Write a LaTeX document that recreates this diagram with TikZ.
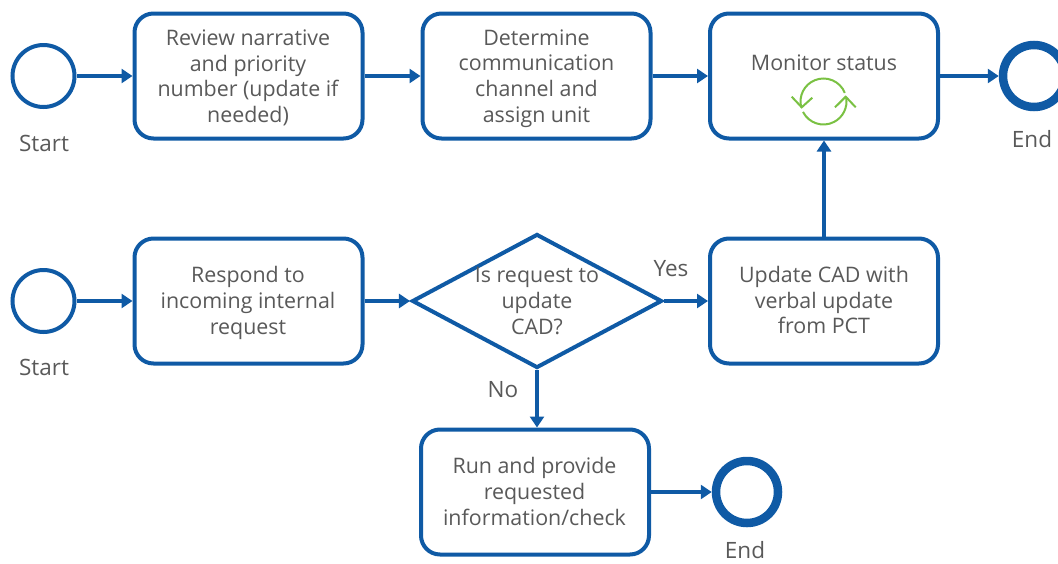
\documentclass[tikz,border=0pt]{standalone}
\usepackage{fontspec}
\setmainfont{Open Sans}
\usetikzlibrary{arrows.meta,shapes.geometric}
\definecolor{bpblue}{HTML}{0F5AA5}
\definecolor{bpgreen}{HTML}{7AC143}
\definecolor{bptext}{HTML}{595959}
\tikzset{
 x=1pt,y=-1pt,
 task/.style={draw=bpblue,line width=4pt,rounded corners=19pt,minimum width=228pt,minimum height=125pt,inner sep=0pt,fill=white},
 tasktext/.style={align=center,text=bptext,font=\fontsize{21.4}{25.6}\selectfont,inner sep=0pt},
 startev/.style={circle,draw=bpblue,line width=4pt,minimum size=62pt,inner sep=0pt},
 endev/.style={circle,draw=bpblue,line width=8.5pt,minimum size=62pt,inner sep=0pt},
 lab/.style={text=bptext,font=\fontsize{22.5}{26}\selectfont,inner sep=0pt},
 flow/.style={draw=bpblue,line width=4.4pt,-{Triangle[length=11pt,width=14pt]}},
 icon/.style={bpgreen,line width=2pt}
}
\begin{document}
\begin{tikzpicture}
\useasboundingbox (0,0) rectangle (1058,563);
\node[startev] (s1) at (43.5,76) {};
\node[task] (t1) at (248.5,76) {};
\node[tasktext] (t1l) at (248,78) {Review narrative\\and priority\\number (update if\\needed)};
\node[task] (t2) at (536.5,76) {};
\node[tasktext] (t2l) at (536.5,78.5) {Determine\\communication\\channel and\\assign unit};
\node[task] (t3) at (824,76) {};
\node[tasktext] (t3l) at (824,63) {Monitor status};
\node[endev] (e1) at (1034,76) {};
\node[lab] (ls1) at (44,143) {Start};
\node[lab] (le1) at (1032,139) {End};
\node[startev] (s2) at (43.5,301) {};
\node[task] (t4) at (248.5,301) {};
\node[tasktext] (t4l) at (248,303) {Respond to\\incoming internal\\request};
\node[diamond,draw=bpblue,line width=4pt,minimum width=250pt,minimum height=134pt,inner sep=0pt,aspect=1.87] (g) at (537,301) {};
\node[tasktext] (gl) at (537,301) {Is request to\\update\\CAD?};
\node[task] (t5) at (824,301) {};
\node[tasktext] (t5l) at (824,300) {Update CAD with\\verbal update\\from PCT};
\node[lab] (ls2) at (44,367) {Start};
\node[lab] (ly) at (671,269) {Yes};
\node[lab] (ln) at (503,390) {No};
\node[task] (t6) at (535,492) {};
\node[tasktext] (t6l) at (534.5,491.5) {Run and provide\\requested\\information/check};
\node[endev] (e2) at (747,492) {};
\node[lab] (le2) at (745,550.5) {End};
\draw[flow] (s1) -- (t1);
\draw[flow] (t1) -- (t2);
\draw[flow] (t2) -- (t3);
\draw[flow] (t3) -- (e1);
\draw[flow] (s2) -- (t4);
\draw[flow] (t4) -- (g);
\draw[flow] (g) -- (t5);
\draw[flow] (t5) -- (t3);
\draw[flow] (g.south) -- (g.south |- t6.north);
\draw[flow] (t6) -- (e2);
\coordinate (c) at (823.5,101.5);
\draw[icon] ([shift={(22:23pt)}]c) arc (22:195:23pt);
\draw[icon] ([shift={(207:23pt)}]c) arc (207:370:23pt);
\draw[icon] (791.7,96.7) -- (801.7,107.3) -- (812.3,97.7);
\draw[icon] (835,107.3) -- (845.7,96.7) -- (855.7,107.3);
\end{tikzpicture}
\end{document}
